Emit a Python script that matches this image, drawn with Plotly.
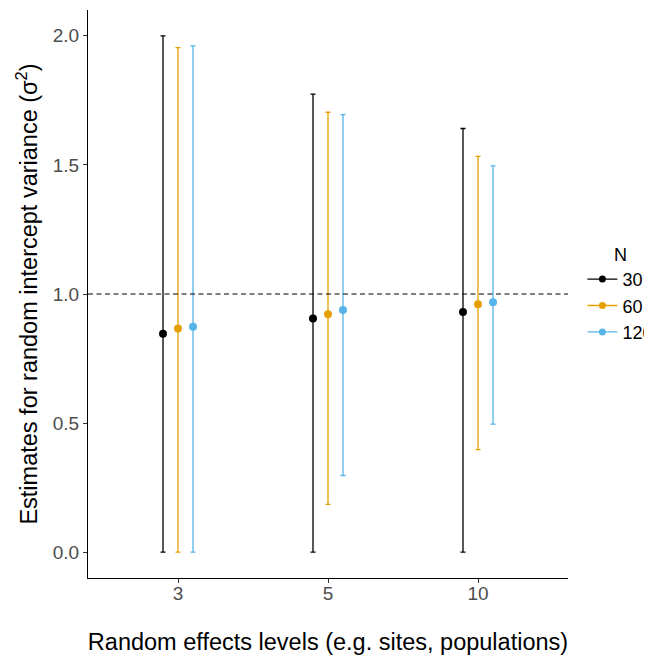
import plotly.graph_objects as go

levels = ["3", "5", "10"]
groups = ["30", "60", "120"]
colors = ["#000000", "#E69F00", "#56B4E9"]

est = {
    "30": [0.846, 0.905, 0.930],
    "60": [0.866, 0.922, 0.960],
    "120": [0.873, 0.938, 0.968],
}
lower = {
    "30": [0.0, 0.0, 0.0],
    "60": [0.0, 0.185, 0.397],
    "120": [0.0, 0.297, 0.496],
}
upper = {
    "30": [2.000, 1.774, 1.641],
    "60": [1.954, 1.704, 1.533],
    "120": [1.961, 1.695, 1.496],
}

font_family = "Liberation Sans, Arial, sans-serif"
fig = go.Figure()

for g, c in zip(groups, colors):
    e = est[g]
    lo = lower[g]
    up = upper[g]
    fig.add_trace(go.Scatter(
        x=levels, y=e, mode="markers", name=g, offsetgroup=g,
        marker=dict(color=c, size=8),
        error_y=dict(type="data", symmetric=False,
                     array=[u - v for u, v in zip(up, e)],
                     arrayminus=[v - l for v, l in zip(e, lo)],
                     color=c, thickness=1.3, width=2.5),
        showlegend=False,
    ))
    fig.add_trace(go.Scatter(
        x=[None], y=[None], mode="lines+markers", name=g,
        line=dict(color=c, width=1.3),
        marker=dict(color=c, size=7),
        showlegend=True,
    ))

fig.add_hline(y=1.0, line=dict(color="black", width=1.2, dash="5px,3.5px"))

# page body has an 8px margin: compensate so the plot area lands where the reference has it
fig.update_layout(
    width=644, height=650,
    margin=dict(l=80, r=84, t=2, b=80, autoexpand=False),
    plot_bgcolor="white", paper_bgcolor="white",
    font=dict(family=font_family, color="black"),
    scattermode="group", scattergap=0.7,
    legend=dict(
        title=dict(text="N", font=dict(size=18, color="black"), side="top center"),
        font=dict(size=18, color="black"),
        x=1.03, xanchor="left", y=0.5, yanchor="middle",
        tracegroupgap=0, itemwidth=30,
    ),
    xaxis=dict(
        type="category", categoryorder="array", categoryarray=levels,
        range=[-0.6, 2.6],
        showline=True, linecolor="black", linewidth=1.2,
        ticks="outside", ticklen=4, tickcolor="#333333", tickwidth=1.1,
        tickfont=dict(size=19, color="#4D4D4D"),
        ticklabelstandoff=-6,
        showgrid=False, zeroline=False,
        title=dict(text="Random effects levels (e.g. sites, populations)",
                   font=dict(size=23.5, color="black"), standoff=30),
    ),
    yaxis=dict(
        range=[-0.1, 2.1],
        tickvals=[0, 0.5, 1.0, 1.5, 2.0],
        ticktext=["0.0", "0.5", "1.0", "1.5", "2.0"],
        showline=True, linecolor="black", linewidth=1.2,
        ticks="outside", ticklen=4, tickcolor="#333333", tickwidth=1.1,
        tickfont=dict(size=19, color="#4D4D4D"),
        showgrid=False, zeroline=False,
        title=dict(text="Estimates for random intercept variance (σ<sup>2</sup>)",
                   font=dict(size=23.5, color="black"), standoff=8),
    ),
)

fig.write_html("out.html")
